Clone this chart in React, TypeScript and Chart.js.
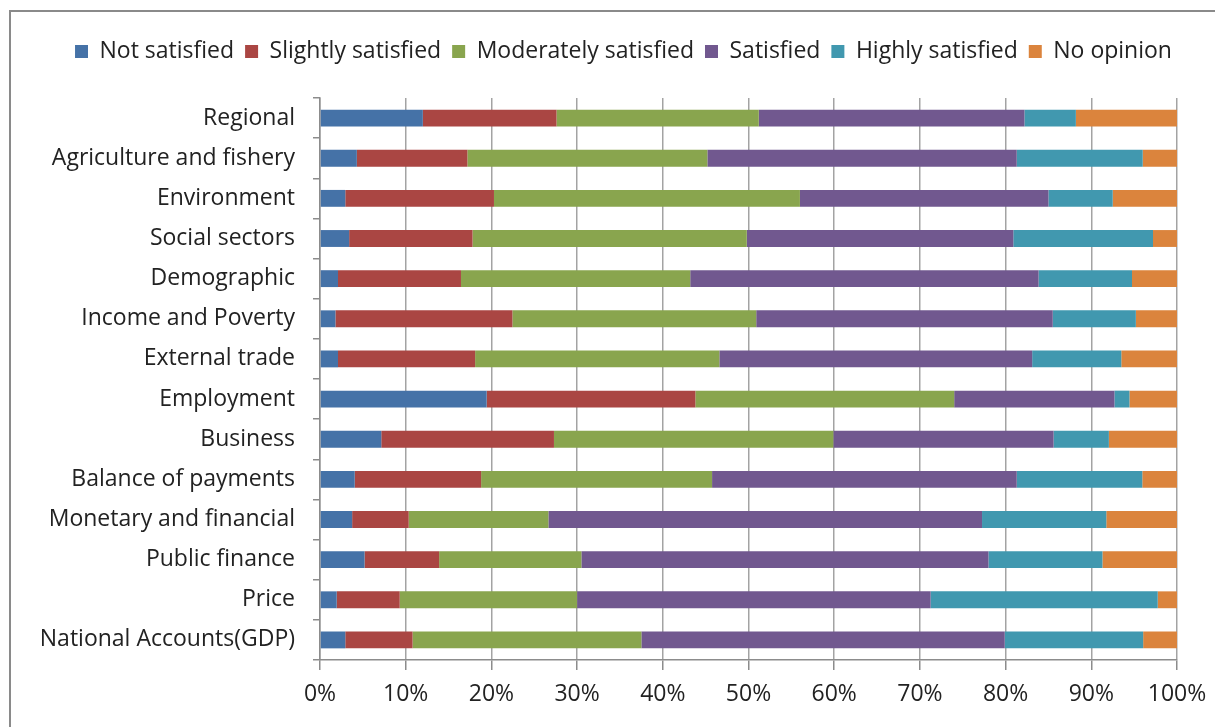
import React, { useEffect, useRef } from "react";
import { Chart, registerables } from "chart.js";

Chart.register(...registerables);

const categories = [
  "Regional",
  "Agriculture and fishery",
  "Environment",
  "Social sectors",
  "Demographic",
  "Income and Poverty",
  "External trade",
  "Employment",
  "Business",
  "Balance of payments",
  "Monetary and financial",
  "Public finance",
  "Price",
  "National Accounts(GDP)",
];

const seriesNames = [
  "Not satisfied",
  "Slightly satisfied",
  "Moderately satisfied",
  "Satisfied",
  "Highly satisfied",
  "No opinion",
];

const notSatisfied = [12.0, 4.3, 2.95, 3.4, 2.1, 1.8, 2.1, 19.45, 7.15, 4.05, 3.75, 5.2, 1.95, 2.95];
const slightlySatisfied = [15.6, 12.9, 17.35, 14.4, 14.35, 20.65, 16.0, 24.35, 20.15, 14.75, 6.6, 8.7, 7.35, 7.85];
const moderatelySatisfied = [23.6, 28.0, 35.7, 32.0, 26.75, 28.45, 28.5, 30.2, 32.6, 26.95, 16.3, 16.6, 20.7, 26.7];
const satisfied = [31.0, 36.1, 29.0, 31.1, 40.65, 34.6, 36.5, 18.7, 25.7, 35.55, 50.6, 47.5, 41.25, 42.4];
const highlySatisfied = [6.0, 14.7, 7.5, 16.3, 10.9, 9.7, 10.4, 1.75, 6.45, 14.65, 14.5, 13.3, 26.5, 16.15];
const noOpinion = [11.8, 4.0, 7.5, 2.8, 5.25, 4.8, 6.5, 5.55, 7.95, 4.05, 8.25, 8.7, 2.25, 3.95];

const seriesValues = [
  notSatisfied,
  slightlySatisfied,
  moderatelySatisfied,
  satisfied,
  highlySatisfied,
  noOpinion,
];

const seriesColors = ["#4572A7", "#AA4643", "#89A54E", "#71588F", "#4198AF", "#DB843D"];

const xTickValues = [0, 10, 20, 30, 40, 50, 60, 70, 80, 90, 100];

const FONT = '"Open Sans", "Noto Sans", sans-serif';

export default function App() {
  const canvasRef = useRef<HTMLCanvasElement | null>(null);

  useEffect(() => {
    const canvas = canvasRef.current;
    if (!canvas) return;

    const legendPlugin = {
      id: "legendTweak",
      beforeInit(chart: any) {
        const legend = chart.legend;
        if (!legend) return;
        const origFit = legend.fit;
        legend.fit = function () {
          origFit.call(this);
          this.height = 69;
        };
      },
      afterLayout(chart: any) {
        const legend = chart.legend;
        if (!legend) return;
        legend.left += 20;
        legend.right += 20;
      },
    };

    const chart = new Chart(canvas, {
      type: "bar",
      data: {
        labels: categories,
        datasets: seriesNames.map((name, i) => ({
          label: name,
          data: seriesValues[i],
          backgroundColor: seriesColors[i],
          borderWidth: 0,
          barPercentage: 0.42,
          categoryPercentage: 1,
        })),
      },
      options: {
        indexAxis: "y",
        responsive: false,
        animation: false,
        layout: { padding: { top: 29, left: 30, right: 38, bottom: 0 } },
        font: { family: FONT, size: 23 },
        plugins: {
          legend: {
            position: "top",
            align: "center",
            labels: {
              boxWidth: 13,
              boxHeight: 13,
              padding: 11,
              color: "#222",
              font: { family: FONT, size: 23 },
            },
          },
          tooltip: { enabled: false },
        },
        scales: {
          x: {
            stacked: true,
            min: 0,
            max: 100,
            afterBuildTicks(scale: any) {
              scale.ticks = xTickValues.map((v) => ({ value: v }));
            },
            afterFit(scale: any) {
              scale.height = 67;
              scale.paddingRight = 0;
              scale.paddingLeft = 0;
            },
            ticks: {
              callback: (v: any) => v + "%",
              color: "#222",
              padding: 11,
              maxRotation: 0,
              font: { family: FONT, size: 23 },
            },
            grid: {
              color: "#a3a3a3",
              lineWidth: 1.5,
              tickLength: 10,
              tickColor: "#8c8c8c",
            },
            border: { display: true, color: "#8c8c8c", width: 1.5 },
          },
          y: {
            stacked: true,
            afterFit(scale: any) {
              scale.width = 290;
            },
            ticks: {
              color: "#222",
              padding: 18,
              font: { family: FONT, size: 23 },
            },
            grid: {
              drawOnChartArea: false,
              tickLength: 7,
              tickColor: "#8c8c8c",
              lineWidth: 1.5,
            },
            border: { display: true, color: "#8c8c8c", width: 1.5 },
          },
        },
      },
      plugins: [legendPlugin],
    } as any);

    return () => {
      chart.destroy();
    };
  }, []);

  return (
    <div
      style={{
        position: "fixed",
        left: 0,
        top: 0,
        width: 1215,
        height: 727,
        overflow: "hidden",
        background: "#ffffff",
      }}
    >
      <div
        style={{
          position: "absolute",
          left: 9,
          top: 10,
          width: 1300,
          height: 800,
          border: "2px solid #8a8a8a",
          boxSizing: "border-box",
        }}
      />
      <canvas
        ref={canvasRef}
        width={1215}
        height={727}
        style={{ position: "absolute", left: 0, top: 0, width: 1215, height: 727 }}
      />
    </div>
  );
}
